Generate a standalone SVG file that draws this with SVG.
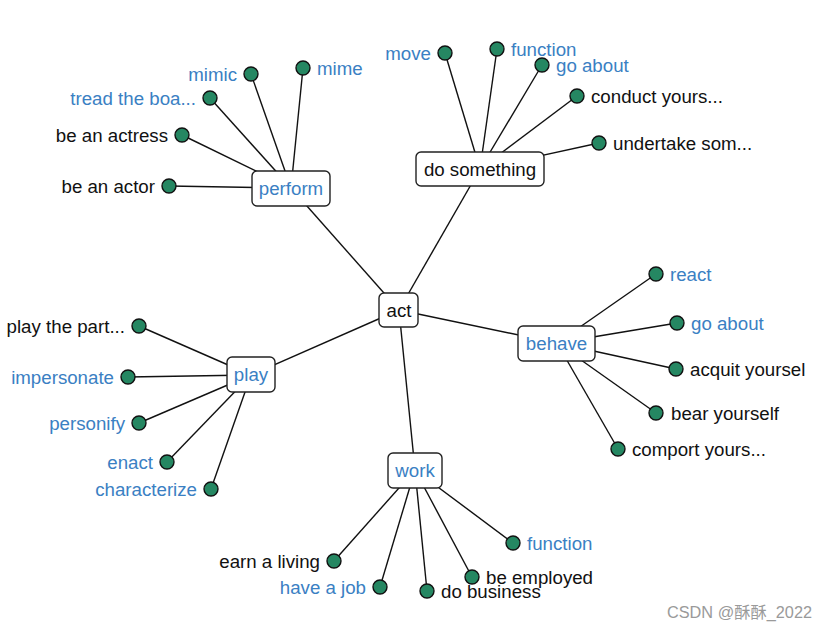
<svg xmlns="http://www.w3.org/2000/svg" width="828" height="631" viewBox="0 0 828 631">
<style>
text{font-family:"Liberation Sans",Arial,sans-serif;font-size:18.7px;}
.b{fill:#3a80c3;}
.k{fill:#111;}
.e{stroke:#111;stroke-width:1.4;fill:none;}
.box{fill:#fff;stroke:#222;stroke-width:1.4;}
.leaf{fill:#258762;stroke:#111;stroke-width:1.4;}
.r{text-anchor:end;}
.m{text-anchor:middle;}
</style>
<rect width="828" height="631" fill="#fff"/>
<g id="connectors" class="e">
<line x1="399" y1="310" x2="291" y2="188"/>
<line x1="399" y1="310" x2="480" y2="169"/>
<line x1="399" y1="310" x2="557" y2="343"/>
<line x1="399" y1="310" x2="251" y2="375"/>
<line x1="399" y1="310" x2="415" y2="470"/>
<line x1="291" y1="188" x2="303" y2="68"/>
<line x1="291" y1="188" x2="251" y2="74"/>
<line x1="291" y1="188" x2="210" y2="98"/>
<line x1="291" y1="188" x2="182" y2="135"/>
<line x1="291" y1="188" x2="169" y2="186"/>
<line x1="480" y1="169" x2="445" y2="53"/>
<line x1="480" y1="169" x2="497" y2="49"/>
<line x1="480" y1="169" x2="542" y2="65"/>
<line x1="480" y1="169" x2="577" y2="96"/>
<line x1="480" y1="169" x2="599" y2="143"/>
<line x1="557" y1="343" x2="656" y2="274"/>
<line x1="557" y1="343" x2="677" y2="323"/>
<line x1="557" y1="343" x2="676" y2="369"/>
<line x1="557" y1="343" x2="656" y2="413"/>
<line x1="557" y1="343" x2="618" y2="449"/>
<line x1="251" y1="375" x2="139" y2="326"/>
<line x1="251" y1="375" x2="128" y2="377"/>
<line x1="251" y1="375" x2="139" y2="423"/>
<line x1="251" y1="375" x2="167" y2="462"/>
<line x1="251" y1="375" x2="211" y2="489"/>
<line x1="415" y1="470" x2="334" y2="561"/>
<line x1="415" y1="470" x2="380" y2="587"/>
<line x1="415" y1="470" x2="427" y2="591"/>
<line x1="415" y1="470" x2="472" y2="577"/>
<line x1="415" y1="470" x2="513" y2="543"/>
</g>
<g id="act"><rect class="box" x="379" y="293" width="39" height="34" rx="5"/><text class="k m" x="399" y="316.5">act</text></g>
<g id="perform"><rect class="box" x="252" y="171" width="78" height="35" rx="5"/><text class="b m" x="291" y="194.5">perform</text></g>
<g id="do-something"><rect class="box" x="416" y="152" width="128" height="34" rx="5"/><text class="k m" x="480" y="175.5">do something</text></g>
<g id="behave"><rect class="box" x="518" y="326" width="77" height="35" rx="5"/><text class="b m" x="556.5" y="349.5">behave</text></g>
<g id="play"><rect class="box" x="227" y="357" width="48" height="35" rx="5"/><text class="b m" x="251" y="380.5">play</text></g>
<g id="work"><rect class="box" x="388" y="453" width="54" height="35" rx="5"/><text class="b m" x="415" y="476.5">work</text></g>

<g id="mime"><circle class="leaf" cx="303" cy="68" r="7"/><text class="b" x="317" y="74.5">mime</text></g>
<g id="mimic"><circle class="leaf" cx="251" cy="74" r="7"/><text class="b r" x="237" y="80.5">mimic</text></g>
<g id="tread"><circle class="leaf" cx="210" cy="98" r="7"/><text class="b r" x="196" y="104.5">tread the boa...</text></g>
<g id="actress"><circle class="leaf" cx="182" cy="135" r="7"/><text class="k r" x="168" y="141.5">be an actress</text></g>
<g id="actor"><circle class="leaf" cx="169" cy="186" r="7"/><text class="k r" x="155" y="192.5">be an actor</text></g>

<g id="move"><circle class="leaf" cx="445" cy="53" r="7"/><text class="b r" x="431" y="59.5">move</text></g>
<g id="function1"><circle class="leaf" cx="497" cy="49" r="7"/><text class="b" x="511" y="55.5">function</text></g>
<g id="goabout1"><circle class="leaf" cx="542" cy="65" r="7"/><text class="b" x="556" y="71.5">go about</text></g>
<g id="conduct"><circle class="leaf" cx="577" cy="96" r="7"/><text class="k" x="591" y="102.5">conduct yours...</text></g>
<g id="undertake"><circle class="leaf" cx="599" cy="143" r="7"/><text class="k" x="613" y="149.5">undertake som...</text></g>

<g id="react"><circle class="leaf" cx="656" cy="274" r="7"/><text class="b" x="670" y="280.5">react</text></g>
<g id="goabout2"><circle class="leaf" cx="677" cy="323" r="7"/><text class="b" x="691" y="329.5">go about</text></g>
<g id="acquit"><circle class="leaf" cx="676" cy="369" r="7"/><text class="k" x="690" y="375.5">acquit yoursel</text></g>
<g id="bear"><circle class="leaf" cx="656" cy="413" r="7"/><text class="k" x="671" y="419.5">bear yourself</text></g>
<g id="comport"><circle class="leaf" cx="618" cy="449" r="7"/><text class="k" x="632" y="455.5">comport yours...</text></g>

<g id="playpart"><circle class="leaf" cx="139" cy="326" r="7"/><text class="k r" x="125" y="332.5">play the part...</text></g>
<g id="impersonate"><circle class="leaf" cx="128" cy="377" r="7"/><text class="b r" x="114" y="383.5">impersonate</text></g>
<g id="personify"><circle class="leaf" cx="139" cy="423" r="7"/><text class="b r" x="125" y="429.5">personify</text></g>
<g id="enact"><circle class="leaf" cx="167" cy="462" r="7"/><text class="b r" x="153" y="468.5">enact</text></g>
<g id="characterize"><circle class="leaf" cx="211" cy="489" r="7"/><text class="b r" x="197" y="495.5">characterize</text></g>

<g id="earn"><circle class="leaf" cx="334" cy="561" r="7"/><text class="k r" x="320" y="567.5">earn a living</text></g>
<g id="job"><circle class="leaf" cx="380" cy="587" r="7"/><text class="b r" x="366" y="593.5">have a job</text></g>
<g id="business"><circle class="leaf" cx="427" cy="591" r="7"/><text class="k" x="441" y="598">do business</text></g>
<g id="employed"><circle class="leaf" cx="472" cy="577" r="7"/><text class="k" x="486" y="584">be employed</text></g>
<g id="function2"><circle class="leaf" cx="513" cy="543" r="7"/><text class="b" x="527" y="549.5">function</text></g>

<text x="812" y="618" text-anchor="end" style="font-family:'Liberation Sans','Noto Sans CJK SC',sans-serif;font-size:16.3px;fill:#9a9a9a">CSDN @酥酥_2022</text>
</svg>
